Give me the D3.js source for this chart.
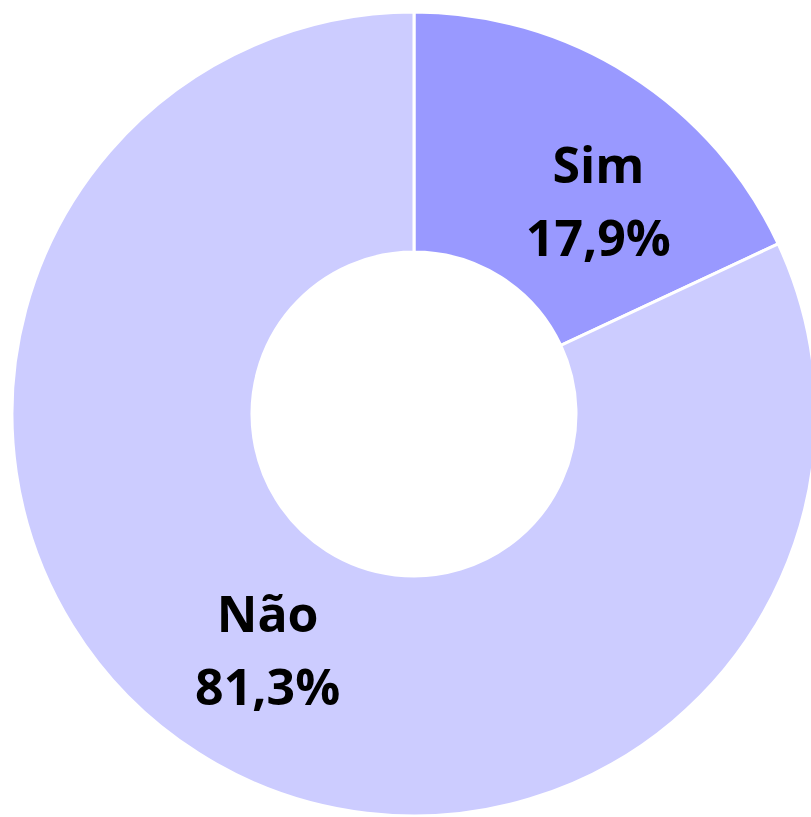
<!DOCTYPE html>
<html>
<head>
<meta charset="utf-8">
<script src="https://cdn.jsdelivr.net/npm/d3@7"></script>
<style>
  body { margin: 0; background: #fff; }
</style>
</head>
<body>
<div id="chart"></div>
<script>
// data
const categories = ["Sim", "Não"];
const values = [17.9, 81.3];
const labels = ["17,9%", "81,3%"];
const colors = ["#9999ff", "#ccccff"];

let width = 811;
let height = 817;
let cx = 414, cy = 414;
let outerR = 402, innerR = 162;

let svg = d3.select("#chart")
    .append("svg")
    .attr("width", width)
    .attr("height", height)
    .append("g")
    .attr("transform", `translate(${cx},${cy})`);

let pie = d3.pie().sort(null).value((d) => d.value);
let arcs = pie(categories.map((c, i) => ({ name: c, value: values[i], label: labels[i], color: colors[i] })));

let arc = d3.arc().innerRadius(innerR).outerRadius(outerR);

svg.selectAll("path")
    .data(arcs)
    .join("path")
    .attr("d", arc)
    .attr("fill", (d) => d.data.color)
    .attr("stroke", "#fff")
    .attr("stroke-width", 3);

// label placement: centroid on a ring, nudged like the original layout
let labelArc = d3.arc().innerRadius(280).outerRadius(280);
let nudge = [[34, 23], [4, 0]];

let g = svg.selectAll("g.lbl")
    .data(arcs)
    .join("g")
    .attr("class", "lbl")
    .attr("transform", (d, i) => {
        let [x, y] = labelArc.centroid(d);
        return `translate(${x + nudge[i][0]},${y + nudge[i][1]})`;
    });

g.append("text")
    .attr("text-anchor", "middle")
    .attr("y", -18)
    .style("font-family", "'Open Sans', sans-serif")
    .style("font-weight", "bold")
    .style("font-size", "50px")
    .attr("fill", "#000")
    .text((d) => d.data.name);

g.append("text")
    .attr("text-anchor", "middle")
    .attr("y", 55)
    .style("font-family", "'Open Sans', sans-serif")
    .style("font-weight", "bold")
    .style("font-size", "50px")
    .attr("fill", "#000")
    .text((d) => d.data.label);
</script>
</body>
</html>
